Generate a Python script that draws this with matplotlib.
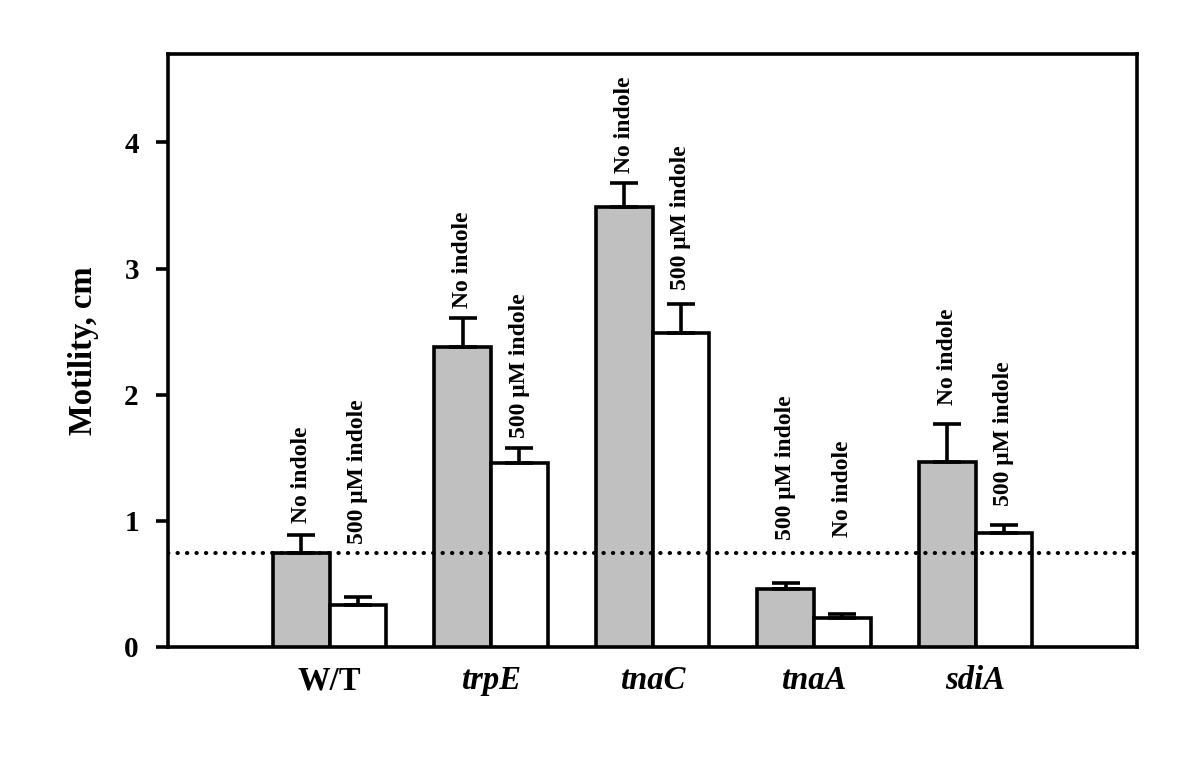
import matplotlib
matplotlib.use("Agg")
import matplotlib.pyplot as plt
import numpy as np

categories = ["W/T", "trpE", "tnaC", "tnaA", "sdiA"]
italic_flags = [False, True, True, True, True]
gray_values = [0.745, 2.38, 3.49, 0.46, 1.47]
gray_err = [0.145, 0.23, 0.19, 0.05, 0.30]
white_values = [0.33, 1.46, 2.49, 0.23, 0.90]
white_err = [0.07, 0.12, 0.23, 0.03, 0.07]
gray_labels = ["No indole", "No indole", "No indole", "500 \u03bcM indole", "No indole"]
white_labels = ["500 \u03bcM indole", "500 \u03bcM indole", "500 \u03bcM indole", "No indole", "500 \u03bcM indole"]
gray_label_y = [0.98, 2.69, 3.76, 0.85, 1.92]
white_label_y = [0.82, 1.66, 2.83, 0.87, 1.12]
reference_level = 0.745
y_ticks = [0, 1, 2, 3, 4]

plt.rcParams['font.family'] = ['Liberation Serif', 'DejaVu Serif']
plt.rcParams['font.weight'] = 'bold'

fig = plt.figure(figsize=(12, 7.74), dpi=100)
ax = fig.add_axes([0.14, 0.1641, 0.8075, 0.7661])

x = np.arange(1, len(categories) + 1)
w = 0.35
lw = 2.6

ax.bar(x - w / 2, gray_values, width=w, color="#c0c0c0", edgecolor="black",
       linewidth=lw, yerr=[np.zeros(len(x)), gray_err],
       error_kw=dict(ecolor="black", elinewidth=lw, capsize=10, capthick=lw), zorder=3)
ax.bar(x + w / 2, white_values, width=w, color="white", edgecolor="black",
       linewidth=lw, yerr=[np.zeros(len(x)), white_err],
       error_kw=dict(ecolor="black", elinewidth=lw, capsize=10, capthick=lw), zorder=3)

ax.axhline(reference_level, color="black", linewidth=2.9,
           linestyle=(0, (0.1, 2.25)), dash_capstyle="round", zorder=4)

for i in range(len(x)):
    ax.text(x[i] - w / 2, gray_label_y[i], gray_labels[i], rotation=90,
            ha="center", va="bottom", fontsize=17, fontweight="bold")
    ax.text(x[i] + w / 2, white_label_y[i], white_labels[i], rotation=90,
            ha="center", va="bottom", fontsize=17, fontweight="bold")

ax.set_xlim(0, 6)
ax.set_ylim(0, 4.7)
ax.set_yticks(y_ticks)
ax.set_yticklabels([str(t) for t in y_ticks], fontsize=21, fontweight="bold")
ax.set_xticks(x)
ax.set_xticklabels(categories, fontsize=23.5, fontweight="bold")
for lab, it in zip(ax.get_xticklabels(), italic_flags):
    if it:
        lab.set_fontstyle("italic")

ax.tick_params(axis="y", direction="out", length=9, width=lw, pad=12)
ax.tick_params(axis="x", length=0, pad=13)
for s in ax.spines.values():
    s.set_linewidth(lw)

ax.set_ylabel("Motility, cm", fontsize=23.5, fontweight="bold", labelpad=18)

fig.savefig("out.png", dpi=100)
